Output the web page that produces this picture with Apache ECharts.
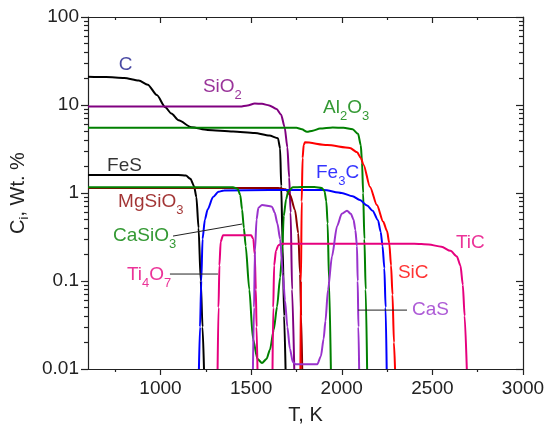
<!DOCTYPE html>
<html>
<head>
<meta charset="utf-8">
<script src="https://cdn.jsdelivr.net/npm/echarts@6/dist/echarts.min.js"></script>
<style>
html, body { margin: 0; padding: 0; background: #fff; }
#main { width: 551px; height: 425px; }
</style>
</head>
<body>
<div id="main"></div>
<script>
var FONT = 'Liberation Sans, Arial, sans-serif';

// equilibrium concentrations, [T in K, C in wt.%]
var curveC = [[600,21],[700,20.8],[800,20.3],[880,19],[930,17],[980,13],[1025,9.5],[1060,8],[1100,6.7],[1170,5.6],[1260,5.2],[1400,5.0],[1520,4.8],[1600,4.5],[1648,4.2],[1660,3.2],[1666,1.2],[1674,0.25],[1682,0.04],[1690,0.01]];
var curveFeS = [[600,1.6],[1100,1.6],[1140,1.58],[1165,1.45],[1185,1.2],[1198,0.9],[1210,0.4],[1222,0.1],[1232,0.03],[1240,0.01]];
var curveSiO2 = [[600,9.6],[1440,9.6],[1480,9.9],[1520,10.4],[1560,10.3],[1600,9.9],[1640,9.0],[1665,7.8],[1685,5.6],[1700,3.3],[1710,1.5],[1718,0.6],[1726,0.08],[1738,0.01]];
var curveAl2O3 = [[600,5.5],[1750,5.5],[1780,5.3],[1808,4.95],[1840,5.1],[1880,5.4],[1950,5.55],[2010,5.5],[2060,5.3],[2090,4.7],[2105,3.5],[2112,2.2],[2118,1.0],[2125,0.3],[2132,0.08],[2140,0.01]];
var curveCaSiO3 = [[600,1.16],[1400,1.16],[1425,1.12],[1440,0.95],[1450,0.65],[1460,0.4],[1470,0.25],[1490,0.08],[1510,0.022],[1535,0.013],[1560,0.0117],[1585,0.013],[1604,0.0166],[1625,0.028],[1643,0.051],[1660,0.11],[1670,0.19],[1680,0.55],[1693,0.85],[1705,1.05],[1730,1.16],[1780,1.17],[1850,1.17],[1890,1.14],[1905,1.05],[1915,0.8],[1922,0.45],[1930,0.1],[1940,0.01]];
var curveMgSiO3 = [[600,1.14],[1650,1.14],[1690,1.1],[1715,0.95],[1742,0.64],[1760,0.35],[1770,0.12],[1776,0.04],[1782,0.01]];
var curveFe3C = [[1212,0.01],[1218,0.03],[1225,0.1],[1232,0.3],[1245,0.5],[1260,0.65],[1290,0.9],[1320,1.03],[1350,1.07],[1600,1.08],[1900,1.08],[2000,1.0],[2060,0.92],[2100,0.83],[2140,0.72],[2170,0.63],[2200,0.49],[2215,0.36],[2225,0.25],[2235,0.14],[2242,0.05],[2248,0.01]];
var curveSiC = [[1772,0.01],[1775,0.1],[1779,0.8],[1784,2.5],[1790,3.5],[1797,3.77],[1920,3.5],[2045,3.25],[2085,2.9],[2105,2.5],[2120,2.1],[2156,1.17],[2194,0.73],[2229,0.47],[2250,0.37],[2262,0.27],[2272,0.15],[2280,0.07],[2288,0.02],[2294,0.01]];
var curveTiC = [[1618,0.01],[1622,0.05],[1627,0.15],[1637,0.22],[1650,0.255],[1670,0.265],[2400,0.265],[2480,0.26],[2550,0.245],[2600,0.22],[2635,0.19],[2655,0.15],[2668,0.09],[2678,0.04],[2690,0.01]];
var curveTi4O7 = [[1315,0.01],[1320,0.05],[1325,0.15],[1332,0.28],[1345,0.33],[1500,0.33],[1512,0.3],[1520,0.2],[1526,0.08],[1530,0.03],[1535,0.01]];
var curveCaS = [[1510,0.01],[1516,0.05],[1521,0.22],[1530,0.5],[1540,0.68],[1560,0.73],[1615,0.7],[1630,0.6],[1645,0.45],[1660,0.3],[1675,0.12],[1687,0.06],[1700,0.03],[1714,0.017],[1730,0.012],[1745,0.0113],[1865,0.0113],[1885,0.014],[1900,0.022],[1910,0.035],[1924,0.079],[1946,0.19],[1974,0.42],[2000,0.58],[2029,0.63],[2050,0.58],[2065,0.5],[2075,0.38],[2084,0.25],[2088,0.1],[2092,0.03],[2096,0.01]];

// curve labels
var labelText = ['C', 'SiO{s|2}', 'Al{s|2}O{s|3}', 'FeS', 'Fe{s|3}C', 'MgSiO{s|3}', 'CaSiO{s|3}', 'Ti{s|4}O{s|7}', 'TiC', 'SiC', 'CaS'];
var labelT = [770, 1234, 1897, 705, 1858, 766, 738, 815, 2630, 2310, 2388];
var labelC = [28.5, 16.0, 9.25, 2.03, 1.69, 0.79, 0.324, 0.117, 0.27, 0.123, 0.0467];

// leader lines
var leaderCaSiO3 = [[1069, 0.324], [1450, 0.444]];
var leaderTi4O7 = [[1052, 0.12], [1317, 0.12]];
var leaderCaS = [[2090, 0.0467], [2360, 0.0467]];

// ticks
var xMajor = [1000, 1500, 2000, 2500, 3000];
var xMinor = [750, 1250, 1750, 2250, 2750];
var yMajor = [0.01, 0.1, 1, 10, 100];
var yMinor = [0.02, 0.03, 0.04, 0.05, 0.06, 0.07, 0.08, 0.09,
  0.2, 0.3, 0.4, 0.5, 0.6, 0.7, 0.8, 0.9,
  2, 3, 4, 5, 6, 7, 8, 9,
  20, 30, 40, 50, 60, 70, 80, 90];

var AX = '#222';
var curveColor = {
  C: '#000000', FeS: '#000000', SiO2: '#800080', Al2O3: '#008000', CaSiO3: '#008000',
  MgSiO3: '#8b0000', Fe3C: '#0000ff', SiC: '#ff0000', TiC: '#e6007e', Ti4O7: '#e6007e', CaS: '#9932cc'
};
var labelColor = ['#1c1c8c', '#800080', '#008000', '#000000', '#0000ff', '#8b0000', '#008000', '#e6007e', '#e6007e', '#ff0000', '#9932cc'];

function xAx(pos, ticks, len, main) {
  return {
    type: 'value', min: 600, max: 3000, position: pos,
    axisLine: { show: main, onZero: false, lineStyle: { color: AX, width: 1.2 } },
    axisTick: { show: true, inside: pos === 'top', customValues: ticks, length: len, lineStyle: { color: AX, width: 1.2 } },
    axisLabel: main && pos === 'bottom' ? {
      customValues: xMajor, fontSize: 19, color: AX, margin: 10, fontFamily: FONT,
      formatter: function (v) { return String(v); }
    } : { show: false },
    splitLine: { show: false }
  };
}
function yAx(pos, ticks, len, main) {
  return {
    type: 'log', logBase: 10, min: 0.01, max: 100, position: pos,
    axisLine: { show: main, onZero: false, lineStyle: { color: AX, width: 1.2 } },
    axisTick: { show: true, inside: pos === 'right', customValues: ticks, length: len, lineStyle: { color: AX, width: 1.2 } },
    axisLabel: main && pos === 'left' ? {
      customValues: yMajor, fontSize: 19, color: AX, margin: 9, fontFamily: FONT,
      formatter: function (v) { return String(+(+v).toPrecision(3)); }
    } : { show: false },
    minorTick: { show: false },
    splitLine: { show: false }
  };
}

var xAxes = [xAx('bottom', xMajor, 6, true), xAx('bottom', xMinor, 3, false), xAx('top', xMajor, 6, true), xAx('top', xMinor, 3, false)];
xAxes[0].name = 'T, K';
xAxes[0].nameLocation = 'middle';
xAxes[0].nameGap = 36;
xAxes[0].nameTextStyle = { fontSize: 20, color: AX, fontFamily: FONT };

var yAxes = [yAx('left', yMajor, 7, true), yAx('left', yMinor, 4, false), yAx('right', yMajor, 7, true), yAx('right', yMinor, 4, false)];
yAxes[0].name = 'C{s|i}, Wt. %';
yAxes[0].nameLocation = 'middle';
yAxes[0].nameGap = 37;
yAxes[0].nameTextStyle = {
  fontSize: 20, color: AX, fontFamily: FONT, lineHeight: 26, verticalAlign: 'top',
  rich: { s: { fontSize: 13, fontFamily: FONT, lineHeight: 26, verticalAlign: 'bottom' } }
};

function curve(name, data) {
  return {
    name: name, type: 'line', data: data, showSymbol: false, symbol: 'none',
    smooth: 0.25, smoothMonotone: 'x', clip: true,
    lineStyle: { color: curveColor[name], width: 2 },
    itemStyle: { color: curveColor[name] }
  };
}
function leader(data) {
  return {
    type: 'line', data: data, showSymbol: false, symbol: 'none',
    lineStyle: { color: AX, width: 1 }, z: 3
  };
}

var labelData = labelText.map(function (t, i) {
  return { value: [labelT[i], labelC[i]], name: t, label: { color: labelColor[i] } };
});

var series = [
  curve('C', curveC),
  curve('FeS', curveFeS),
  curve('SiO2', curveSiO2),
  curve('Al2O3', curveAl2O3),
  curve('MgSiO3', curveMgSiO3),
  curve('Fe3C', curveFe3C),
  curve('SiC', curveSiC),
  curve('CaSiO3', curveCaSiO3),
  curve('TiC', curveTiC),
  curve('Ti4O7', curveTi4O7),
  curve('CaS', curveCaS),
  leader(leaderCaSiO3),
  leader(leaderTi4O7),
  leader(leaderCaS),
  {
    type: 'scatter', data: labelData, symbolSize: 0, z: 5,
    label: {
      show: true, position: 'right', distance: 0,
      formatter: function (p) { return p.name; },
      fontSize: 19, fontFamily: FONT, lineHeight: 30,
      rich: { s: { fontSize: 13, fontFamily: FONT, lineHeight: 12, verticalAlign: 'bottom' } }
    }
  }
];

var chart = echarts.init(document.getElementById('main'), null, { renderer: 'canvas' });
chart.setOption({
  animation: false,
  backgroundColor: '#fff',
  grid: { left: 88, right: 28, top: 17, bottom: 56, containLabel: false, outerBoundsMode: 'none' },
  xAxis: xAxes,
  yAxis: yAxes,
  series: series
});
</script>
</body>
</html>
